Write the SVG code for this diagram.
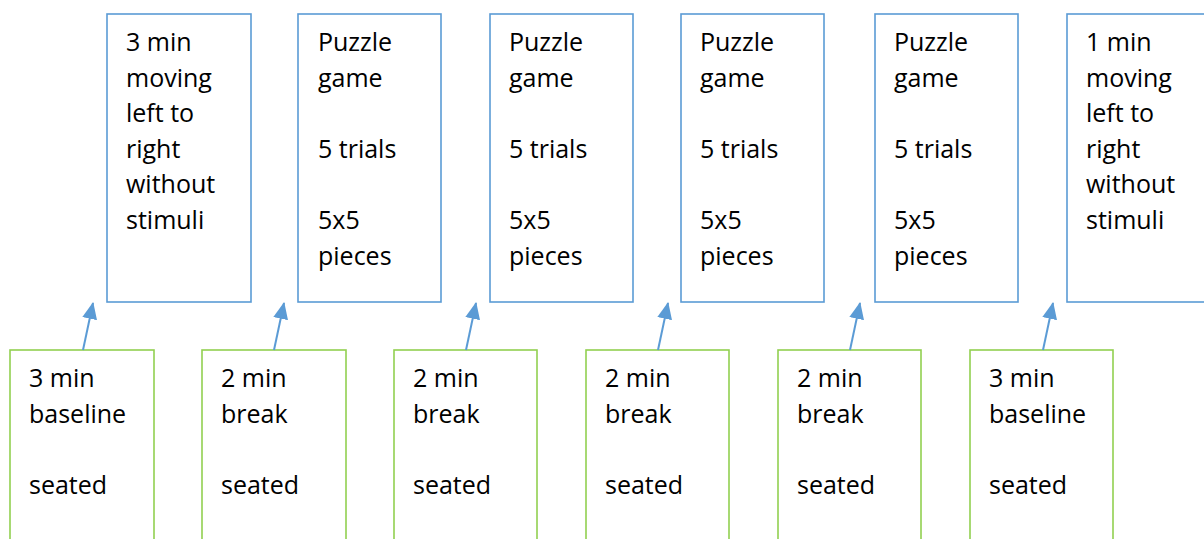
<svg xmlns="http://www.w3.org/2000/svg" width="1204" height="539" viewBox="0 0 1204 539">
  <style>
    .top rect { fill: #ffffff; stroke: #5B9BD5; stroke-width: 1.6; }
    .bot rect { fill: #ffffff; stroke: #92D050; stroke-width: 1.6; }
    text { font-family: "Open Sans", "Noto Sans", sans-serif; font-size: 25px; fill: #000000; }
    .conn line { stroke: #5B9BD5; stroke-width: 2; }
  </style>
  <defs>
    <marker id="head" viewBox="0 0 17 15" refX="16" refY="7.5" markerWidth="17" markerHeight="15" markerUnits="userSpaceOnUse" orient="auto">
      <path d="M0,0 L17,7.5 L0,15 Z" fill="#5B9BD5"/>
    </marker>
  </defs>
  <rect width="1204" height="539" fill="#ffffff"/>

  <!-- activity boxes (top row) -->
  <g id="act1" class="top">
    <rect x="107" y="14" width="144" height="288"/>
    <text x="126" y="51">3 min</text>
    <text x="126" y="87">moving</text>
    <text x="126" y="122">left to</text>
    <text x="126" y="158">right</text>
    <text x="126" y="193">without</text>
    <text x="126" y="229">stimuli</text>
  </g>
  <g id="act2" class="top">
    <rect x="298" y="14" width="143" height="288"/>
    <text x="318" y="51">Puzzle</text>
    <text x="318" y="87">game</text>
    <text x="318" y="158">5 trials</text>
    <text x="318" y="229">5x5</text>
    <text x="318" y="265">pieces</text>
  </g>
  <g id="act3" class="top">
    <rect x="490" y="14" width="143" height="288"/>
    <text x="509" y="51">Puzzle</text>
    <text x="509" y="87">game</text>
    <text x="509" y="158">5 trials</text>
    <text x="509" y="229">5x5</text>
    <text x="509" y="265">pieces</text>
  </g>
  <g id="act4" class="top">
    <rect x="681" y="14" width="143" height="288"/>
    <text x="700" y="51">Puzzle</text>
    <text x="700" y="87">game</text>
    <text x="700" y="158">5 trials</text>
    <text x="700" y="229">5x5</text>
    <text x="700" y="265">pieces</text>
  </g>
  <g id="act5" class="top">
    <rect x="875" y="14" width="143" height="288"/>
    <text x="894" y="51">Puzzle</text>
    <text x="894" y="87">game</text>
    <text x="894" y="158">5 trials</text>
    <text x="894" y="229">5x5</text>
    <text x="894" y="265">pieces</text>
  </g>
  <g id="act6" class="top">
    <rect x="1067" y="14" width="160" height="288"/>
    <text x="1086" y="51">1 min</text>
    <text x="1086" y="87">moving</text>
    <text x="1086" y="122">left to</text>
    <text x="1086" y="158">right</text>
    <text x="1086" y="193">without</text>
    <text x="1086" y="229">stimuli</text>
  </g>

  <!-- rest boxes (bottom row) -->
  <g id="rest1" class="bot">
    <rect x="10" y="350" width="144" height="220"/>
    <text x="29" y="387">3 min</text>
    <text x="29" y="423">baseline</text>
    <text x="29" y="494">seated</text>
  </g>
  <g id="rest2" class="bot">
    <rect x="202" y="350" width="144" height="220"/>
    <text x="221" y="387">2 min</text>
    <text x="221" y="423">break</text>
    <text x="221" y="494">seated</text>
  </g>
  <g id="rest3" class="bot">
    <rect x="394" y="350" width="143" height="220"/>
    <text x="413" y="387">2 min</text>
    <text x="413" y="423">break</text>
    <text x="413" y="494">seated</text>
  </g>
  <g id="rest4" class="bot">
    <rect x="586" y="350" width="143" height="220"/>
    <text x="605" y="387">2 min</text>
    <text x="605" y="423">break</text>
    <text x="605" y="494">seated</text>
  </g>
  <g id="rest5" class="bot">
    <rect x="778" y="350" width="143" height="220"/>
    <text x="797" y="387">2 min</text>
    <text x="797" y="423">break</text>
    <text x="797" y="494">seated</text>
  </g>
  <g id="rest6" class="bot">
    <rect x="970" y="350" width="143" height="220"/>
    <text x="989" y="387">3 min</text>
    <text x="989" y="423">baseline</text>
    <text x="989" y="494">seated</text>
  </g>

  <!-- connectors -->
  <g id="connectors" class="conn">
    <line x1="83" y1="350" x2="93" y2="303" marker-end="url(#head)"/>
    <line x1="274" y1="350" x2="284" y2="303" marker-end="url(#head)"/>
    <line x1="466" y1="350" x2="476" y2="303" marker-end="url(#head)"/>
    <line x1="658" y1="350" x2="668" y2="303" marker-end="url(#head)"/>
    <line x1="850" y1="350" x2="860" y2="303" marker-end="url(#head)"/>
    <line x1="1043" y1="350" x2="1053" y2="303" marker-end="url(#head)"/>
  </g>
</svg>
